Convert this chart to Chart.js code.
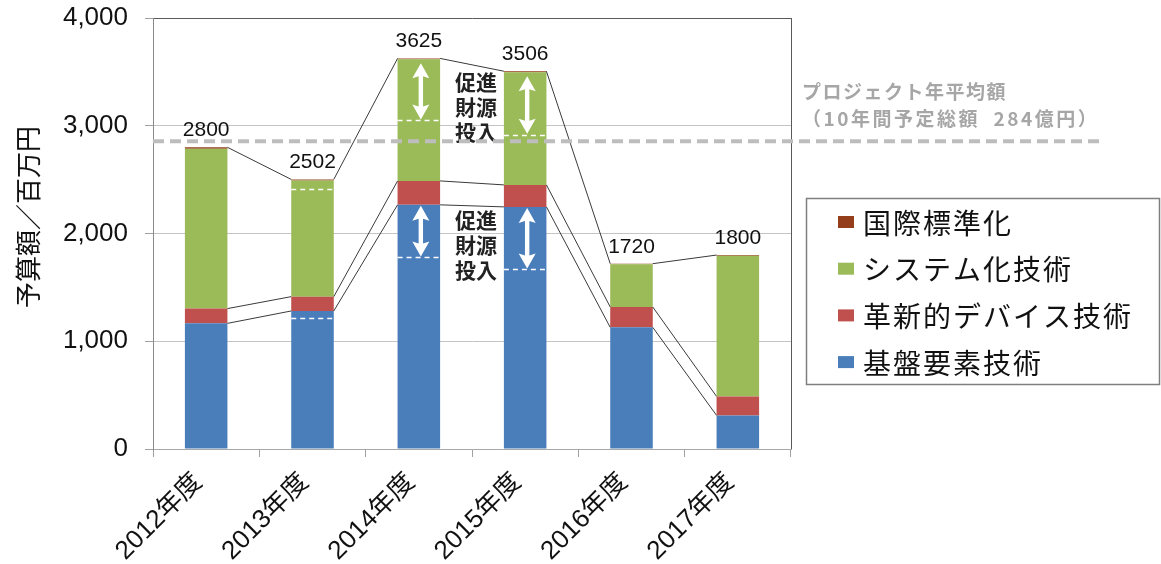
<!DOCTYPE html>
<html><head><meta charset="utf-8">
<script src="https://cdn.jsdelivr.net/npm/chart.js@4/dist/chart.umd.min.js"></script>
<style>html,body{margin:0;padding:0;background:#fff;} canvas{display:block;}</style>
</head><body>
<canvas id="c" width="1161" height="564"></canvas>
<script>
const categories = ['2012年度','2013年度','2014年度','2015年度','2016年度','2017年度'];
const seriesNames = ['基盤要素技術','革新的デバイス技術','システム化技術','国際標準化'];
const seriesColors = ['#4A7EBB','#C0504D','#9BBB59','#943E1B'];
const baseValues = [1166,1281,2266,2247,1129,312];
const deviceValues = [137,133,222,204,189,176];
const systemValues = [1483,1077,1129,1045,396,1306];
const standardValues = [14,11,8,10,6,6];
const baseDashed = [null,1216,1778,1667,null,null];
const systemDashed = [null,2417,3049,2917,null,null];
const arrowCategories = [2,3];
const projectAverage = 2855;
const yTicks = [0,1000,2000,3000,4000];
const yTitle = '予算額／百万円';
const avgLabel = ['プロジェクト年平均額','（10年間予定総額  284億円）'];
const promoLabel = ['促進','財源','投入'];
const promoCenters = [3170,1890];

const FONT_LATIN = '"Liberation Sans", Arial, "Noto Sans CJK JP", sans-serif';
const FONT_CJK = '"Noto Sans CJK JP", "Liberation Sans", sans-serif';

function drawArrow(ctx, x, y1, y2){
  const hw = 8.5, hl = 15, sw = 2.2;
  ctx.beginPath();
  ctx.moveTo(x, y1);
  ctx.lineTo(x+hw, y1+hl);
  ctx.lineTo(x+sw, y1+hl-2);
  ctx.lineTo(x+sw, y2-hl+2);
  ctx.lineTo(x+hw, y2-hl);
  ctx.lineTo(x, y2);
  ctx.lineTo(x-hw, y2-hl);
  ctx.lineTo(x-sw, y2-hl+2);
  ctx.lineTo(x-sw, y1+hl-2);
  ctx.lineTo(x-hw, y1+hl);
  ctx.closePath();
  ctx.fill();
}

const overlay = {
  id: 'overlay',
  beforeDatasetsDraw(chart){
    const ctx = chart.ctx, a = chart.chartArea;
    ctx.save();
    ctx.strokeStyle = '#5a5a5a'; ctx.lineWidth = 1;
    ctx.beginPath(); ctx.moveTo(a.right+0.5, a.top); ctx.lineTo(a.right+0.5, a.bottom); ctx.stroke();
    ctx.restore();
  },
  afterDatasetsDraw(chart){
    const ctx = chart.ctx, ys = chart.scales.y, a = chart.chartArea;
    const metas = [0,1,2,3].map(i => chart.getDatasetMeta(i).data);
    ctx.save();
    // connector lines
    ctx.strokeStyle = '#3a3a3a'; ctx.lineWidth = 1;
    [0,1,3].forEach(di => {
      const bars = metas[di];
      for (let j = 0; j < bars.length-1; j++){
        const p = bars[j], q = bars[j+1];
        ctx.beginPath();
        ctx.moveTo(p.x + p.width/2, p.y);
        ctx.lineTo(q.x - q.width/2, q.y);
        ctx.stroke();
      }
    });
    // white dashed lines
    ctx.strokeStyle = '#ffffff'; ctx.lineWidth = 1.5; ctx.setLineDash([5,4]);
    [[baseDashed,0],[systemDashed,2]].forEach(([arr,di]) => {
      arr.forEach((v,j) => {
        if (v == null) return;
        const b = metas[di][j];
        const py = Math.round(ys.getPixelForValue(v)) + 0.5;
        ctx.beginPath(); ctx.moveTo(b.x - b.width/2, py); ctx.lineTo(b.x + b.width/2, py); ctx.stroke();
      });
    });
    ctx.setLineDash([]);
    // arrows
    ctx.fillStyle = '#ffffff';
    arrowCategories.forEach(j => {
      const bb = metas[0][j], bs = metas[2][j];
      drawArrow(ctx, bb.x + 2, bb.y + 1, ys.getPixelForValue(baseDashed[j]) - 1);
      drawArrow(ctx, bs.x + 2, bs.y + 4, ys.getPixelForValue(systemDashed[j]) - 1);
    });
    // promo text
    ctx.fillStyle = '#222'; ctx.font = 'bold 21px ' + FONT_CJK;
    ctx.textAlign = 'center'; ctx.textBaseline = 'middle';
    const mx = (metas[0][2].x + metas[0][3].x)/2 + 4;
    promoCenters.forEach(v => {
      const cy = ys.getPixelForValue(v);
      promoLabel.forEach((t,k) => ctx.fillText(t, mx, cy + (k-1)*25));
    });
    // project average dashed line
    const ay = ys.getPixelForValue(projectAverage);
    ctx.strokeStyle = '#BDBDBD'; ctx.lineWidth = 4; ctx.setLineDash([11,6]);
    ctx.beginPath(); ctx.moveTo(a.left, ay); ctx.lineTo(a.right + 312, ay); ctx.stroke();
    ctx.setLineDash([]);
    ctx.fillStyle = '#A6A6A6'; ctx.font = 'bold 19px ' + FONT_CJK;
    ctx.textAlign = 'left'; ctx.textBaseline = 'middle';
    try { ctx.letterSpacing = '1.5px'; } catch(e){}
    ctx.fillText(avgLabel[0], a.right + 11, ay - 50);
    try { ctx.letterSpacing = '2.5px'; } catch(e){}
    ctx.fillText(avgLabel[1], a.right + 11, ay - 23);
    try { ctx.letterSpacing = '0px'; } catch(e){}
    // total labels
    ctx.fillStyle = '#111'; ctx.font = '21px ' + FONT_LATIN;
    ctx.textAlign = 'center'; ctx.textBaseline = 'alphabetic';
    metas[3].forEach((b,j) => {
      const tot = baseValues[j] + deviceValues[j] + systemValues[j] + standardValues[j];
      ctx.fillText(String(Math.round(tot)), b.x, b.y - 11);
    });
    ctx.restore();
  },
  afterDraw(chart){
    const ctx = chart.ctx, a = chart.chartArea;
    ctx.save();
    // y title
    ctx.translate(28, 217);
    ctx.rotate(-Math.PI/2);
    ctx.fillStyle = '#111'; ctx.font = '26px ' + FONT_CJK;
    ctx.textAlign = 'center'; ctx.textBaseline = 'middle';
    ctx.fillText(yTitle, 0, 0);
    ctx.restore();
    // legend
    ctx.save();
    const lx = a.right + 15, ly = 198, lw = 353, lh = 186;
    ctx.strokeStyle = '#7f7f7f'; ctx.lineWidth = 1.5;
    ctx.strokeRect(lx + 0.5, ly + 0.5, lw, lh);
    ctx.font = '28px ' + FONT_CJK; ctx.textBaseline = 'middle'; ctx.textAlign = 'left';
    try { ctx.letterSpacing = '2px'; } catch(e){}
    const ds = chart.data.datasets.slice().reverse();
    ds.forEach((d,k) => {
      const cy = 222 + k*46.7;
      ctx.fillStyle = d.backgroundColor;
      ctx.fillRect(lx + 32, cy - 6, 16, 12);
      ctx.fillStyle = '#111';
      ctx.fillText(d.label, lx + 57, cy + 1);
    });
    ctx.restore();
  }
};

new Chart(document.getElementById('c'), {
  type: 'bar',
  data: {
    labels: categories,
    datasets: [
      { label: seriesNames[0], data: baseValues, backgroundColor: seriesColors[0] },
      { label: seriesNames[1], data: deviceValues, backgroundColor: seriesColors[1] },
      { label: seriesNames[2], data: systemValues, backgroundColor: seriesColors[2] },
      { label: seriesNames[3], data: standardValues, backgroundColor: seriesColors[3] }
    ]
  },
  options: {
    responsive: false,
    animation: false,
    devicePixelRatio: 1,
    layout: { padding: { left: 0, right: 370, top: 18, bottom: 0 } },
    datasets: { bar: { barPercentage: 0.4, categoryPercentage: 1.0, borderWidth: 0 } },
    plugins: { legend: { display: false }, tooltip: { enabled: false }, title: { display: false } },
    scales: {
      x: {
        stacked: true,
        grid: { display: true, drawOnChartArea: false, drawTicks: true, tickLength: 8, color: '#a0a0a0', offset: true },
        border: { display: true, color: '#a8a8a8', width: 1 },
        ticks: { minRotation: 45, maxRotation: 45, autoSkip: false, color: '#111', font: { size: 26, family: FONT_LATIN }, padding: 10, labelOffset: -8 },
        afterFit(s){ s.height = 115; }
      },
      y: {
        stacked: true,
        min: 0, max: 4000,
        afterBuildTicks(s){ s.ticks = yTicks.map(v => ({ value: v })); },
        grid: { color: ctx => (ctx.tick && ctx.tick.value === 4000) ? '#5a5a5a' : '#c4c4c4', tickColor: '#a0a0a0', tickLength: 8, drawTicks: true },
        border: { display: true, color: '#8a8a8a', width: 1 },
        ticks: { color: '#111', font: { size: 26, family: FONT_LATIN }, padding: 17,
                 callback: v => Number(v).toLocaleString('en-US') },
        afterFit(s){ s.width = 153; s.paddingTop = 0; s.paddingBottom = 0; }
      }
    }
  },
  plugins: [overlay]
});
</script>
</body></html>
